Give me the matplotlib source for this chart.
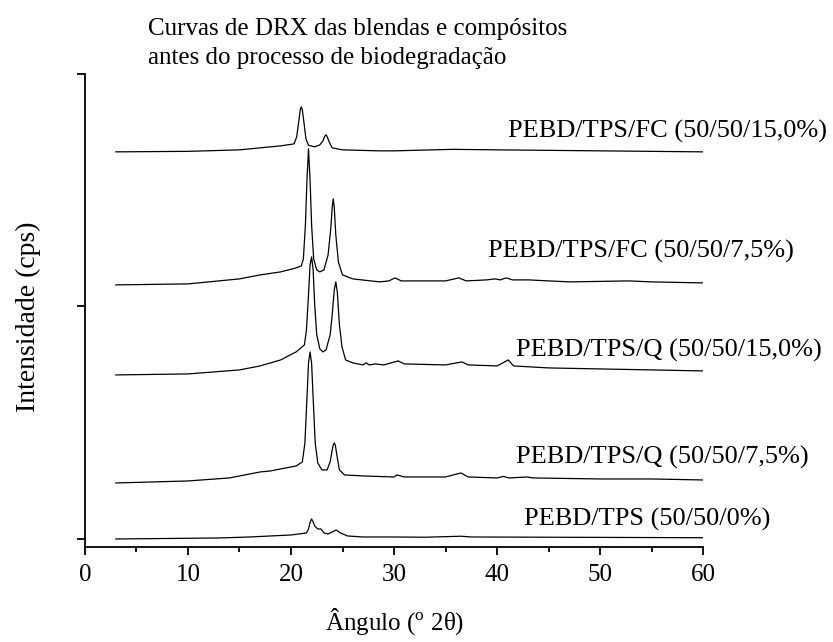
import numpy as np
import matplotlib
matplotlib.use('Agg')
import matplotlib.pyplot as plt
from matplotlib.ticker import MultipleLocator

plt.rcParams['font.family'] = ['Liberation Serif', 'DejaVu Serif']
plt.rcParams['mathtext.fontset'] = 'custom'
plt.rcParams['mathtext.rm'] = 'Liberation Serif'

# XRD patterns (2theta in degrees, intensity in cps above each curve's start)
tps_2theta = [3, 8, 13, 16, 18, 20, 21.5, 21.7, 21.85, 22.0, 22.15, 22.3, 22.6, 22.9,
              23.2, 23.6, 24.0, 24.4, 24.8, 25.5, 27, 30, 33, 36.5, 37.5, 45, 53, 60]
tps_int = [0, 10, 20, 40, 60, 80, 120, 200, 330, 400, 340, 260, 200, 200,
           120, 100, 140, 180, 120, 60, 40, 40, 35, 55, 40, 35, 30, 25]

q75_2theta = [3, 10, 14, 16, 17, 18, 19, 20.5, 21.1, 21.35, 21.55, 21.7, 21.85, 22.0,
              22.15, 22.35, 22.6, 23.0, 23.5, 23.8, 23.95, 24.1, 24.2, 24.3, 24.45,
              24.7, 25.2, 27, 30, 30.3, 31, 35, 36.5, 37.2, 40, 40.6, 41.2, 42.9,
              43.5, 50, 55, 60]
q75_int = [0, 40, 100, 180, 220, 240, 280, 340, 420, 800, 1700, 2400, 2620, 2400,
           1700, 800, 400, 260, 260, 420, 600, 760, 800, 760, 560,
           260, 160, 140, 120, 160, 120, 120, 200, 120, 100, 130, 100, 120,
           100, 80, 80, 60]

q15_2theta = [3, 10, 15, 17, 19, 20.5, 21.3, 21.5, 21.7, 21.85, 22.0, 22.15, 22.3,
              22.5, 22.8, 23.1, 23.4, 23.8, 24.0, 24.2, 24.35, 24.5, 24.7, 24.95,
              25.3, 26, 27, 27.3, 27.6, 28.2, 29, 30.4, 31, 35, 36.6, 37.2, 40,
              41.1, 41.6, 45, 50, 55, 60]
q15_int = [0, 20, 100, 180, 300, 460, 600, 900, 1600, 2200, 2360, 2100, 1400,
           800, 520, 460, 500, 800, 1200, 1700, 1860, 1650, 1000, 560,
           300, 240, 200, 240, 200, 220, 200, 280, 220, 200, 260, 200, 180,
           300, 180, 140, 120, 100, 80]

fc75_2theta = [3, 10, 15, 17, 19, 20.5, 21.0, 21.2, 21.4, 21.55, 21.7, 21.85, 22.0,
               22.2, 22.5, 22.8, 23.2, 23.6, 23.85, 24.0, 24.1, 24.2, 24.35, 24.6,
               25, 26, 28.6, 29.5, 30.1, 30.7, 33, 35, 36.3, 37, 39, 39.8, 40.3,
               40.9, 41.5, 43.1, 45, 47.1, 50, 52.8, 55, 60]
fc75_int = [0, 20, 120, 200, 260, 340, 380, 520, 1200, 2100, 2720, 2100, 1200,
            520, 300, 260, 300, 600, 1100, 1550, 1720, 1550, 1000, 460,
            200, 120, 60, 80, 140, 80, 80, 80, 140, 80, 100, 120, 100,
            140, 100, 100, 80, 60, 70, 80, 60, 40]

fc15_2theta = [3, 10, 15, 17, 19, 20.3, 20.55, 20.75, 20.9, 21.0, 21.1, 21.25, 21.45,
               21.7, 22.3, 22.8, 23.1, 23.3, 23.4, 23.5, 23.7, 24.0, 25, 28.6, 30,
               35.7, 40, 50, 60]
fc15_int = [0, 10, 40, 80, 120, 160, 300, 600, 840, 900, 840, 600, 260,
            130, 100, 140, 220, 320, 340, 310, 200, 80, 40, 20, 20,
            50, 40, 20, 0]

# vertical offsets used to stack the patterns
offsets = [0, 1120, 3280, 5080, 7740]

labels = ['PEBD/TPS (50/50/0%)',
          'PEBD/TPS/Q (50/50/7,5%)',
          'PEBD/TPS/Q (50/50/15,0%)',
          'PEBD/TPS/FC (50/50/7,5%)',
          'PEBD/TPS/FC (50/50/15,0%)']
label_pos = [(42.6, 400), (41.8, 1640), (41.8, 3760), (39.1, 5740), (41.1, 8140)]

series = [(tps_2theta, tps_int), (q75_2theta, q75_int), (q15_2theta, q15_int),
          (fc75_2theta, fc75_int), (fc15_2theta, fc15_int)]

fig = plt.figure(figsize=(8.33, 6.42), dpi=100)
ax = fig.add_axes([0.102, 0.148, 0.742, 0.737])

for (tt, inten), off in zip(series, offsets):
    ax.plot(tt, np.array(inten) + off, color='black', lw=0.9)

for txt, (lx, ly) in zip(labels, label_pos):
    ax.text(lx, ly, txt, fontsize=19, ha='left', va='center')

ax.set_xlim(0, 60)
ax.set_ylim(-160, 9300)
ax.xaxis.set_major_locator(MultipleLocator(10))
ax.xaxis.set_minor_locator(MultipleLocator(5))
ax.set_yticks([0, 4650, 9300])
ax.set_yticklabels([])
ax.tick_params(axis='both', which='major', direction='out', length=6, width=1.3,
               labelsize=18, pad=6)
ax.tick_params(axis='x', which='minor', direction='out', length=3.5, width=1.3)
for side in ['top', 'right']:
    ax.spines[side].set_visible(False)
for side in ['left', 'bottom']:
    ax.spines[side].set_linewidth(1.3)

fig.text(0.178, 1 - 35 / 642, 'Curvas de DRX das blendas e compósitos',
         fontsize=18, va='baseline')
fig.text(0.178, 1 - 64 / 642, 'antes do processo de biodegradação',
         fontsize=18, va='baseline')
fig.text(0.034, 1 - 317 / 642, 'Intensidade (cps)', fontsize=20,
         rotation=90, ha='center', va='center')
fig.text(0.474, 1 - 622 / 642, r'Ângulo ($^{\mathrm{o}}$ 2θ)', fontsize=18,
         ha='center', va='center')

fig.savefig('out.png', dpi=100)
